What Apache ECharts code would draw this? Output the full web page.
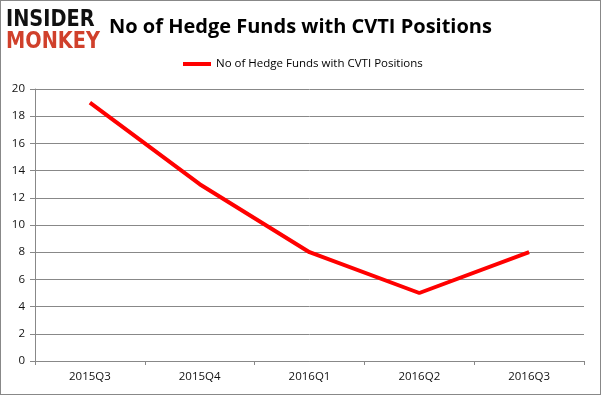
<!DOCTYPE html>
<html><head><meta charset="utf-8">
<script src="https://cdn.jsdelivr.net/npm/echarts@6/dist/echarts.min.js"></script>
<style>html,body{margin:0;padding:0;background:#fff}#c{width:601px;height:395px;box-sizing:border-box;border:1px solid #888}</style>
</head><body><div id="c"></div>
<script>
const categories = ['2015Q3','2015Q4','2016Q1','2016Q2','2016Q3'];
const values = [19, 13, 8, 5, 8];
const seriesName = 'No of Hedge Funds with CVTI Positions';
const titleText = 'No of Hedge Funds with CVTI Positions';
const chart = echarts.init(document.getElementById('c'), null, {renderer:'canvas'});
chart.setOption({
  animation:false,
  title:{text:titleText,left:103,top:11,textStyle:{fontFamily:'Open Sans',fontWeight:'bold',fontSize:20,color:'#000'}},
  legend:{data:[seriesName],top:52,left:177,itemWidth:28,itemHeight:4,itemGap:3,icon:'rect',
    textStyle:{fontFamily:'Open Sans',fontSize:11.5,color:'#000'}},
  graphic:[
    {type:'text',x:5,y:8,scaleX:0.84,style:{text:'INSIDER',font:'900 23px "DejaVu Sans"',fill:'#111'}},
    {type:'text',x:5,y:30,scaleX:0.84,style:{text:'MONKEY',font:'900 23px "DejaVu Sans"',fill:'#d0402b'}}
  ],
  grid:{left:34,right:16,top:88,bottom:33},
  xAxis:{type:'category',data:categories,boundaryGap:true,
    axisLine:{lineStyle:{color:'#888'}},axisTick:{show:true,length:4,lineStyle:{color:'#888'}},
    axisLabel:{fontFamily:'Open Sans',fontSize:11.5,color:'#111',margin:10}},
  yAxis:{type:'value',min:0,max:20,interval:2,
    axisLine:{show:true,lineStyle:{color:'#888'}},axisTick:{show:true,length:5,lineStyle:{color:'#888'}},
    splitLine:{lineStyle:{color:'#888'}},
    axisLabel:{fontFamily:'Open Sans',fontSize:11.5,color:'#111',margin:10}},
  series:[{name:seriesName,type:'line',data:values,symbol:'none',lineStyle:{color:'#ff0000',width:4},itemStyle:{color:'#ff0000'}}]
});
</script></body></html>
